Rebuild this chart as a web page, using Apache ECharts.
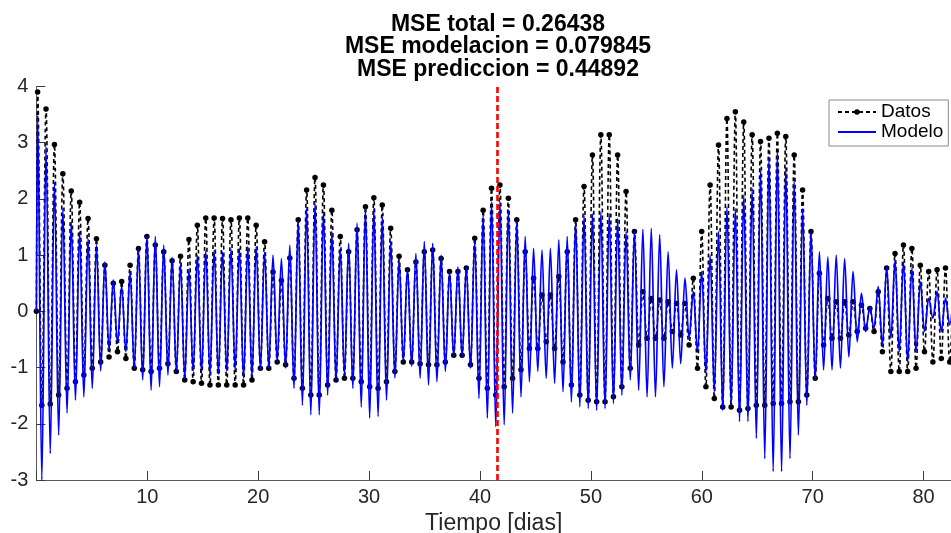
<!DOCTYPE html>
<html>
<head>
<meta charset="utf-8">
<title>MSE</title>
<script src="https://cdn.jsdelivr.net/npm/echarts@6/dist/echarts.min.js"></script>
<style>
  html, body { margin: 0; padding: 0; background: #ffffff; }
  #chart { width: 951px; height: 533px; }
</style>
</head>
<body>
<div id="chart"></div>
<script>
// Successive high / low water levels, one pair per oscillation.
// Highs fall at PEAK_T0 + k*PERIOD, lows half a period later.
const PEAK_T0 = 0.11;      // day of the first high
const PERIOD = 0.758;      // days between consecutive highs
const START_DAY = 0;       // first sample
const startDatos = 0;
const startModelo = 0;
const SPLIT_DAY = 41.6;    // end of the fitting window
const X_MAX = 82.47;

const highsDatos = [
  3.9, 3.6, 2.97, 2.45, 2.14, 1.94, 1.65, 1.29, 0.82, 0.5,
  0.53, 0.82, 1.12, 1.33, 1.18, 1.06, 0.9, 0.98, 1.28, 1.53,
  1.66, 1.66, 1.65, 1.63, 1.66, 1.66, 1.53, 1.24, 0.7, 0.55,
  0.95, 1.63, 2.16, 2.38, 2.25, 1.8, 1.33, 1.06, 1.45, 1.86,
  2.02, 1.89, 1.48, 0.98, 0.74, 0.88, 1.06, 1.09, 0.94, 0.71,
  0.71, 0.77, 1.3, 1.8, 2.19, 2.25, 2.01, 1.63, 1.06, 0.59,
  0.29, 0.29, 0.62, 1.06, 1.63, 2.22, 2.78, 3.14, 3.14, 2.78,
  2.13, 1.42, 0.35, 0.23, 0.2, 0.17, 0.14, 0.14, 0.59, 1.42,
  2.25, 2.96, 3.43, 3.55, 3.37, 3.14, 3.02, 3.08, 3.17, 3.11,
  2.78, 2.16, 1.42, 0.68, 0.23, 0.17, 0.17, 0.17, 0.11, 0.05,
  0.35, 0.77, 1.03, 1.18, 1.12, 0.82, 0.71, 0.74, 0.77, 0.94
];
const lowsDatos = [
  -1.67, -1.65, -1.49, -1.37, -1.25, -1.13, -1.01, -0.9, -0.81, -0.72,
  -0.84, -1.01, -1.04, -1.07, -1.01, -0.93, -1.07, -1.22, -1.25, -1.28,
  -1.31, -1.31, -1.31, -1.31, -1.31, -1.22, -1.01, -1.01, -0.9, -0.95,
  -1.19, -1.37, -1.49, -1.49, -1.31, -1.22, -1.19, -1.19, -1.25, -1.34,
  -1.37, -1.25, -1.07, -0.9, -0.9, -0.93, -0.95, -0.95, -0.9, -0.78,
  -0.78, -0.95, -1.19, -1.37, -1.49, -1.34, -1.19, -1.04, -0.66, -0.66,
  -0.54, -0.66, -0.9, -1.31, -1.49, -1.58, -1.61, -1.61, -1.52, -1.34,
  -1.01, -0.6, -0.48, -0.48, -0.48, -0.36, -0.42, -0.6, -1.01, -1.34,
  -1.55, -1.7, -1.7, -1.76, -1.73, -1.67, -1.67, -1.64, -1.64, -1.61,
  -1.61, -1.49, -1.19, -0.6, -0.48, -0.48, -0.42, -0.36, -0.3, -0.36,
  -0.72, -1.07, -1.07, -1.07, -1.01, -0.72, -0.9, -0.84, -0.9
];
const highsModelo = [
  3.49, 2.93, 2.3, 1.83, 1.6, 1.42, 1.29, 1.18, 0.88, 0.56,
  0.45, 0.7, 1.1, 1.35, 1.33, 1.18, 0.96, 0.83, 0.75, 1.0,
  1.08, 1.09, 1.06, 1.11, 1.12, 1.15, 1.15, 1.05, 1.0, 0.94,
  1.18, 1.6, 1.83, 1.92, 1.77, 1.42, 1.12, 1.21, 1.57, 1.83,
  1.83, 1.68, 1.24, 0.91, 0.77, 1.03, 1.24, 1.21, 1.0, 0.72,
  0.79, 0.79, 1.24, 1.71, 1.95, 1.95, 1.8, 1.6, 1.33, 1.12,
  1.09, 1.12, 1.27, 1.33, 1.6, 1.71, 1.74, 1.77, 1.74, 1.65,
  1.42, 1.42, 1.46, 1.47, 1.36, 1.06, 0.74, 0.59, 0.35, 0.71,
  1.0, 1.42, 1.86, 1.83, 2.07, 2.19, 2.51, 2.75, 2.84, 2.57,
  2.31, 1.83, 1.42, 1.06, 0.97, 1.0, 0.94, 0.71, 0.32, 0.08,
  0.44, 0.79, 0.91, 0.88, 0.77, 0.53, 0.23, 0.35, 0.23, 0.53
];
const lowsModelo = [
  -3.0, -2.53, -2.2, -1.81, -1.58, -1.52, -1.37, -1.06, -0.69, -0.57,
  -0.72, -1.01, -1.22, -1.4, -1.34, -1.13, -1.07, -1.19, -1.07, -1.1,
  -1.13, -1.12, -1.07, -1.04, -1.19, -1.16, -1.04, -1.01, -0.9, -1.01,
  -1.37, -1.67, -1.84, -1.84, -1.49, -1.25, -1.13, -1.37, -1.7, -1.9,
  -1.87, -1.58, -1.19, -0.9, -0.98, -1.19, -1.31, -1.25, -1.07, -0.81,
  -0.81, -1.01, -1.55, -1.9, -2.05, -2.02, -1.81, -1.52, -1.25, -1.07,
  -1.19, -1.28, -1.43, -1.61, -1.7, -1.73, -1.76, -1.73, -1.64, -1.49,
  -1.22, -1.4, -1.52, -1.52, -1.34, -1.01, -0.93, -0.48, -0.72, -1.1,
  -1.43, -1.76, -1.67, -1.96, -1.96, -2.26, -2.62, -2.85, -2.85, -2.62,
  -2.2, -1.67, -1.22, -1.04, -1.04, -1.01, -0.81, -0.54, -0.36, -0.3,
  -0.6, -0.48, -0.72, -0.9, -0.72, -0.36, -0.12, -0.36, -0.24
];

const xTicks = [10, 20, 30, 40, 50, 60, 70, 80];
const titleLines = [
  'MSE total = 0.26438',
  'MSE modelacion = 0.079845',
  'MSE prediccion = 0.44892'
];

// Interleave highs and lows into [day, level] pairs.
function buildSeries(start, highs, lows) {
  const pts = [[START_DAY, start]];
  highs.forEach((h, k) => {
    pts.push([PEAK_T0 + k * PERIOD, h]);
    if (k < lows.length) pts.push([PEAK_T0 + (k + 0.5) * PERIOD, lows[k]]);
  });
  return pts;
}

const FONT = '"Liberation Sans", Arial, Helvetica, sans-serif';
const chart = echarts.init(document.getElementById('chart'), null, { renderer: 'canvas' });

chart.setOption({
  animation: false,
  backgroundColor: '#ffffff',
  title: {
    text: titleLines.join('\n'),
    left: 498,
    top: 13,
    textAlign: 'center',
    padding: 0,
    textStyle: {
      fontFamily: FONT,
      fontSize: 23,
      fontWeight: 'bold',
      color: '#000000',
      lineHeight: 22.5
    }
  },
  legend: {
    orient: 'vertical',
    left: 829,
    top: 100,
    padding: [2, 5, 4, 8],
    itemGap: 0,
    itemWidth: 38,
    itemHeight: 7,
    backgroundColor: '#ffffff',
    borderColor: '#8a8a8a',
    borderWidth: 1,
    borderRadius: 0,
    textStyle: { fontFamily: FONT, fontSize: 19, color: '#000000', lineHeight: 20, padding: [0, 0, 0, 0] },
    data: [
      { name: 'Datos' },
      { name: 'Modelo', itemStyle: { opacity: 0 } }
    ]
  },
  grid: {
    left: 36.4, top: 86.5, right: 0, height: 393.5,
    containLabel: false, outerBoundsMode: 'none'
  },
  xAxis: {
    type: 'value',
    min: 0,
    max: X_MAX,
    interval: 10,
    name: 'Tiempo [dias]',
    nameLocation: 'middle',
    nameGap: 29,
    nameTextStyle: { fontFamily: FONT, fontSize: 23, color: '#262626' },
    axisLine: { show: true, onZero: false, lineStyle: { color: '#5a5a5a', width: 1 } },
    axisTick: { show: true, inside: true, length: 9, lineStyle: { color: '#3a3a3a', width: 1 } },
    axisLabel: {
      fontFamily: FONT, fontSize: 20, color: '#262626', margin: 7,
      formatter: v => (xTicks.indexOf(v) >= 0 ? String(v) : ''),
      showMinLabel: true, showMaxLabel: false
    },
    splitLine: { show: false }
  },
  yAxis: {
    type: 'value',
    min: -3,
    max: 4,
    interval: 1,
    axisLine: { show: true, onZero: false, lineStyle: { color: '#5a5a5a', width: 1 } },
    axisTick: { show: true, inside: true, length: 9, lineStyle: { color: '#3a3a3a', width: 1 } },
    axisLabel: { fontFamily: FONT, fontSize: 20, color: '#262626', margin: 8 },
    splitLine: { show: false }
  },
  series: [
    {
      name: 'Datos',
      type: 'line',
      data: buildSeries(startDatos, highsDatos, lowsDatos),
      smooth: 0.36,
      smoothMonotone: 'x',
      symbol: 'circle',
      symbolSize: 5.5,
      showSymbol: true,
      showAllSymbol: true,
      itemStyle: { color: '#000000', borderWidth: 0 },
      lineStyle: { color: '#000000', width: 1.6, type: [4, 3] },
      z: 2,
      silent: true
    },
    {
      name: 'Modelo',
      type: 'line',
      data: buildSeries(startModelo, highsModelo, lowsModelo),
      smooth: 0.36,
      smoothMonotone: 'x',
      showSymbol: false,
      symbol: 'none',
      itemStyle: { color: '#0000ff' },
      lineStyle: { color: '#0000ff', width: 1.7 },
      z: 3,
      silent: true,
      markLine: {
        silent: true,
        symbol: ['none', 'none'],
        label: { show: false },
        lineStyle: { color: '#ff0000', width: 2.6, type: [6, 3] },
        data: [{ xAxis: SPLIT_DAY }],
        z: 6
      }
    }
  ]
});
</script>
</body>
</html>
